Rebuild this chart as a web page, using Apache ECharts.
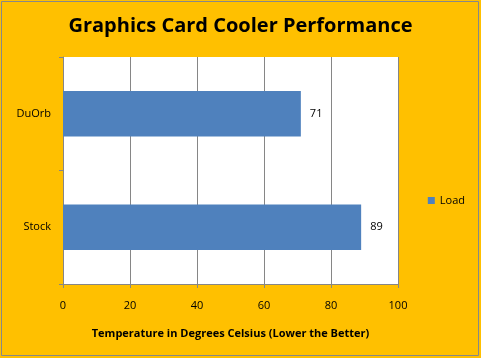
<!DOCTYPE html>
<html><head><meta charset="utf-8">
<script src="https://cdn.jsdelivr.net/npm/echarts@6/dist/echarts.min.js"></script>
<style>html,body{margin:0;padding:0;background:#fff}#c{width:481px;height:358px}</style>
</head><body><div id="c"></div>
<script>
const categories = ['Stock', 'DuOrb'];
const loadValues = [89, 71];
const seriesName = 'Load';
const titleText = 'Graphics Card Cooler Performance';
const xAxisTitle = 'Temperature in Degrees Celsius (Lower the Better)';

const chart = echarts.init(document.getElementById('c'), null, {renderer: 'canvas'});
const font = '"Open Sans", "Noto Sans", sans-serif';
chart.setOption({
  backgroundColor: '#FFC000',
  animation: false,
  graphic: [{type: 'rect', shape: {x: 1.5, y: 1.5, width: 477, height: 354}, style: {fill: 'none', stroke: '#888', lineWidth: 1}, silent: true}],
  title: {text: titleText, left: 'center', top: 11, textStyle: {fontFamily: font, fontWeight: 'bold', fontSize: 20, color: '#000'}},
  legend: {data: [seriesName], right: 11, top: 190, orient: 'vertical', itemWidth: 7, itemHeight: 7, itemGap: 4, icon: 'rect',
    textStyle: {fontFamily: font, fontSize: 11, color: '#000'}},
  grid: {left: 63, right: 83, top: 57, bottom: 74, backgroundColor: '#fff', show: true, borderWidth: 0},
  xAxis: {type: 'value', min: 0, max: 100, interval: 20,
    name: xAxisTitle, nameLocation: 'middle', nameGap: 44,
    nameTextStyle: {fontFamily: font, fontWeight: 'bold', fontSize: 11, color: '#000'},
    axisLine: {show: true, lineStyle: {color: '#868686'}},
    axisTick: {show: true, length: 4, lineStyle: {color: '#868686'}},
    axisLabel: {fontFamily: font, fontSize: 11, color: '#000', margin: 16},
    splitLine: {show: true, lineStyle: {color: '#868686'}}},
  yAxis: {type: 'category', data: categories,
    axisLine: {show: true, lineStyle: {color: '#868686'}},
    axisTick: {show: true, length: 4, lineStyle: {color: '#868686'}},
    axisLabel: {fontFamily: font, fontSize: 11, color: '#000', margin: 12},
    splitLine: {show: false}},
  series: [{name: seriesName, type: 'bar', data: loadValues, barWidth: '40%',
    itemStyle: {color: '#4F81BD'},
    label: {show: true, position: 'right', distance: 9, fontFamily: font, fontSize: 11, color: '#000'}}]
});
</script></body></html>
